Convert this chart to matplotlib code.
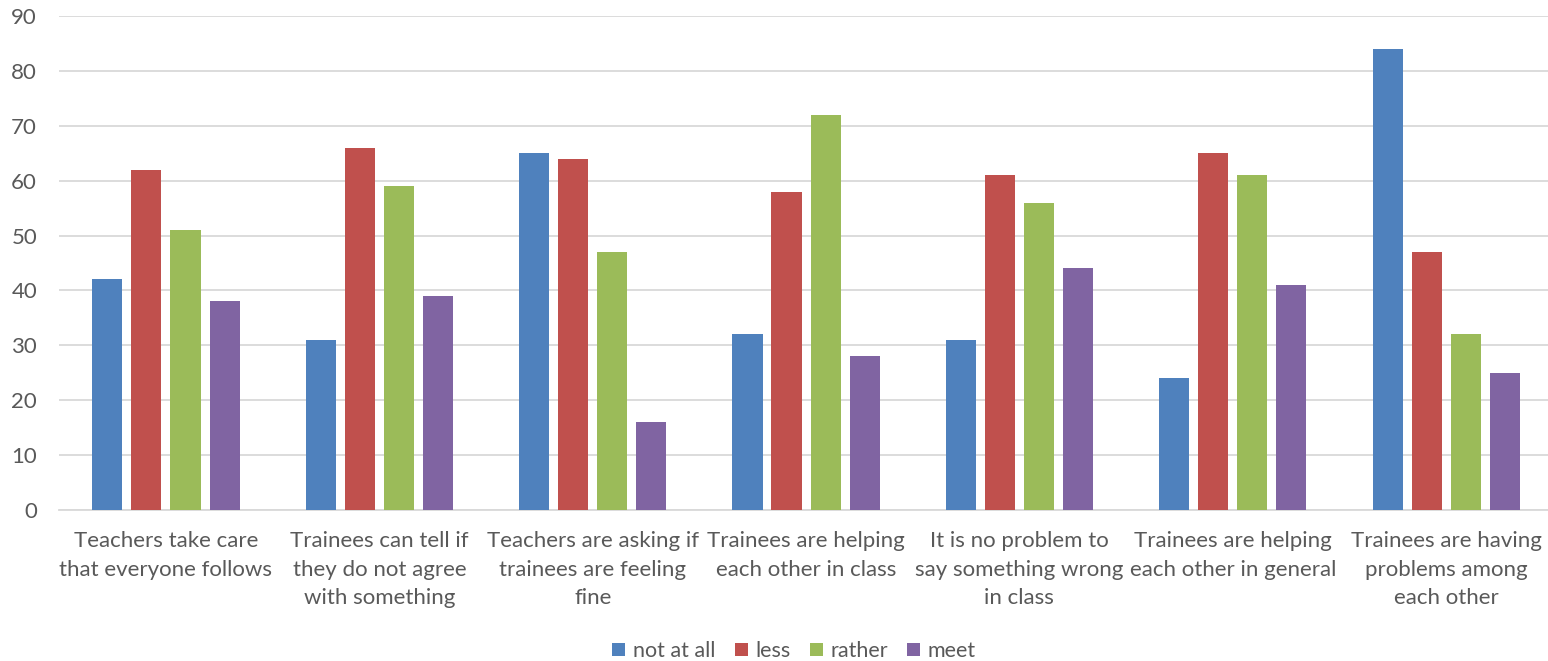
import numpy as np
import matplotlib.pyplot as plt
from matplotlib.patches import Patch

plt.rcParams['font.family'] = ['Lato', 'DejaVu Sans']

categories = [
    "Teachers take care\nthat everyone follows",
    "Trainees can tell if\nthey do not agree\nwith something",
    "Teachers are asking if\ntrainees are feeling\nfine",
    "Trainees are helping\neach other in class",
    "It is no problem to\nsay something wrong\nin class",
    "Trainees are helping\neach other in general",
    "Trainees are having\nproblems among\neach other",
]
series_names = ["not at all", "less", "rather", "meet"]
not_at_all = [42, 31, 65, 32, 31, 24, 84]
less = [62, 66, 64, 58, 61, 65, 47]
rather = [51, 59, 47, 72, 56, 61, 32]
meet = [38, 39, 16, 28, 44, 41, 25]

colors = ['#4F81BD', '#C0504D', '#9BBB59', '#8064A2']
text_color = '#595959'

fig = plt.figure(figsize=(15.48, 6.61), dpi=100)
# plot area runs slightly past the right edge of the image, as in the original
ax = fig.add_axes([59.3 / 1548, 1 - 510 / 661, 1493.5 / 1548, 494 / 661])

x = np.arange(len(categories))
step = 0.183
width = 0.141
for i, (vals, c) in enumerate(zip([not_at_all, less, rather, meet], colors)):
    ax.bar(x + (i - 1.5) * step, vals, width=width, color=c, zorder=3)

ax.set_xlim(-0.5, len(categories) - 0.5)
ax.set_ylim(0, 90)
ax.set_yticks(range(0, 91, 10))
ax.grid(axis='y', color='#D9D9D9', linewidth=1.3, zorder=0)
for s in ['top', 'right', 'left']:
    ax.spines[s].set_visible(False)
ax.spines['bottom'].set_color('#D9D9D9')
ax.spines['bottom'].set_linewidth(1.3)
ax.tick_params(axis='both', length=0, colors=text_color, labelsize=16)
ax.tick_params(axis='y', pad=16)
ax.tick_params(axis='x', pad=15)
ax.set_xticks(x)
ax.set_xticklabels(categories, linespacing=1.55)

handles = [Patch(facecolor=c, label=n) for c, n in zip(colors, series_names)]
leg = fig.legend(handles=handles, loc='center', bbox_to_anchor=(0.513, 1 - 651 / 661),
                 ncol=4, frameon=False, fontsize=15.5, handlelength=0.6, handleheight=0.6,
                 handletextpad=0.35, columnspacing=0.9)
for t in leg.get_texts():
    t.set_color(text_color)

fig.savefig('out.png', dpi=100)
